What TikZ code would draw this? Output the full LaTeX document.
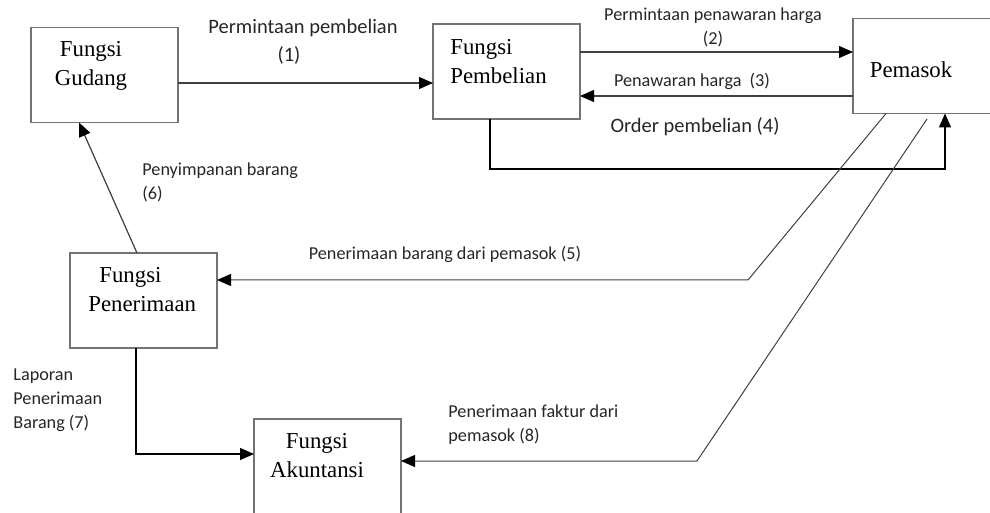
\documentclass[tikz,border=0pt]{standalone}
\usepackage{fontspec}
\setmainfont{Liberation Serif}
\newfontfamily\lblfont{Carlito}
\usetikzlibrary{arrows.meta, positioning}

\begin{document}
\begin{tikzpicture}[
    x=0.5pt, y=-0.5pt,
    box/.style={draw=black!55, line width=0.9pt, minimum width=73.5pt,
                minimum height=47.5pt, inner sep=0pt, outer sep=0pt},
    boxtext/.style={font=\fontsize{11.4}{14.5}\selectfont, inner sep=0pt},
    arrow/.style={-{Triangle[length=7pt, width=6pt, color=black]}, draw=black!75,
                  line width=0.6pt},
    flow/.style={font=\lblfont\fontsize{9.1}{12}\selectfont, text=black!85, inner sep=0pt},
    bigflow/.style={font=\lblfont\fontsize{10.25}{14}\selectfont, text=black!85, inner sep=0pt}
  ]
  \useasboundingbox (0,0) rectangle (990,513);

  % boxes
  \node[box] (gudang) at (104.5, 75) {};
  \node[box] (pembelian) at (506.5, 71.5) {};
  \node[box, minimum width=100pt] (pemasok) at (953, 66) {};
  \node[box] (penerimaan) at (143.5, 300.5) {};
  \node[box] (akuntansi) at (327.5, 466.5) {};

  \node[boxtext, align=center] (gudang-txt) at (91, 66) {Fungsi\\Gudang};
  \node[boxtext, align=left, anchor=west] (pembelian-txt) at (450, 62)
    {Fungsi\\Pembelian};
  \node[boxtext] (pemasok-txt) at (911, 70) {Pemasok};
  \node[boxtext, align=left, anchor=west] (penerimaan-txt) at (88, 289.5)
    {\hspace*{5.5pt}Fungsi\\Penerimaan};
  \node[boxtext, align=center] (akuntansi-txt) at (317, 455.5) {Fungsi\\Akuntansi};

  % flows
  \draw[arrow] (gudang.east |- 0,83) -- (pembelian.west |- 0,83);
  \draw[arrow] (pembelian.east |- 0,52) -- (pemasok.west |- 0,52);
  \draw[arrow] (pemasok.west |- 0,96) -- (pembelian.east |- 0,96);
  \draw[arrow, draw=black] (pembelian.south -| 490,0) |- (945,169)
    -- (pemasok.south -| 945,0);
  \draw[arrow, line width=0.5pt] (pemasok.south -| 886,0) -- (748,280)
    -- (penerimaan.east |- 0,280);
  \draw[arrow] (penerimaan.north -| 137,0) -- (gudang.south -| 79,0);
  \draw[arrow, draw=black] (penerimaan.south -| 136,0) |- (akuntansi.west |- 0,454);
  \coordinate (faktur-start) at (927,119);
  \draw[arrow, line width=0.5pt] (faktur-start) -- (697,461)
    -- (akuntansi.east |- 0,461);

  % labels
  \node[bigflow, align=center] (l1) at (303, 42)
    {Permintaan pembelian\\(1)\hspace*{14pt}};
  \node[flow, align=center] (l2) at (713, 27.5) {Permintaan penawaran harga\\(2)};
  \node[flow] (l3) at (692, 81) {Penawaran harga\ \ (3)};
  \node[bigflow] (l4) at (695, 127) {Order pembelian (4)};
  \node[flow] (l5) at (445, 254) {Penerimaan barang dari pemasok (5)};
  \node[flow, align=left, anchor=west] (l6) at (142, 182) {Penyimpanan barang\\(6)};
  \node[flow, align=left, anchor=west] (l7) at (13, 400)
    {Laporan\\Penerimaan\\Barang (7)};
  \node[flow, align=left, anchor=west] (l8) at (448, 425)
    {Penerimaan faktur dari\\pemasok (8)};
\end{tikzpicture}
\end{document}
